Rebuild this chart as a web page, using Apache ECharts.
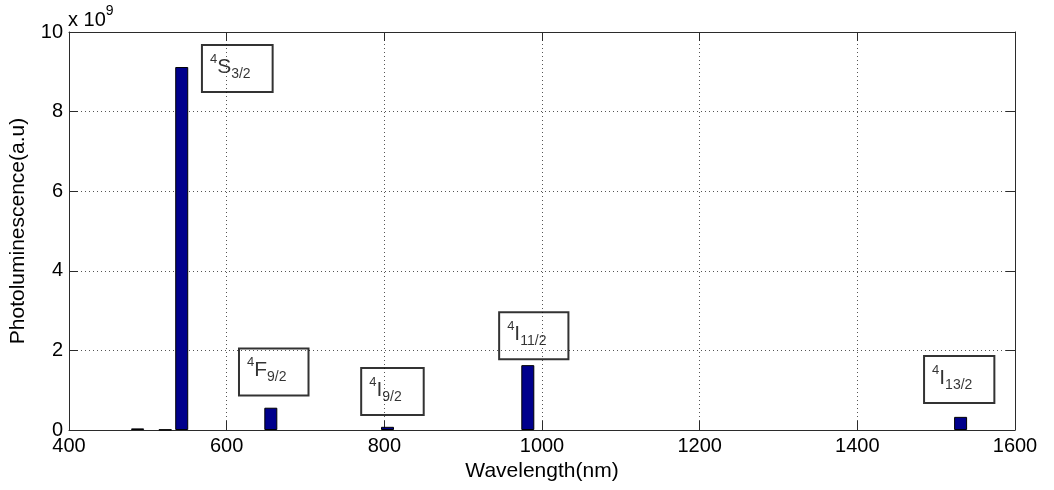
<!DOCTYPE html>
<html><head><meta charset="utf-8">
<script src="https://cdn.jsdelivr.net/npm/echarts@6/dist/echarts.min.js"></script>
<style>html,body{margin:0;padding:0;background:#fff}#c{width:1054px;height:490px}</style>
</head><body><div id="c"></div>
<script>
// Data (intensity in units of 1e9 a.u.)
const wavelengths = [487, 522, 543, 656, 804, 982, 1531];
const intensities = [0.04, 0.01, 9.12, 0.56, 0.08, 1.63, 0.33];
const xTicks = [400, 600, 800, 1000, 1200, 1400, 1600];
const yTicks = [0, 2, 4, 6, 8, 10];
const annoSup = ['4', '4', '4', '4', '4'];
const annoSymbol = ['S', 'F', 'I', 'I', 'I'];
const annoSub = ['3/2', '9/2', '9/2', '11/2', '13/2'];
const annoX = [568, 615, 770, 945, 1484];
const annoY = [9.08, 1.46, 0.97, 2.37, 1.27];
const xName = 'Wavelength(nm)';
const yName = 'Photoluminescence(a.u)';
const scaleBase = 'x 10';
const scaleExp = '9';

const FONT = '"Liberation Sans", Arial, Helvetica, sans-serif';
const frame = '#2b2b2b';
const gridLine = { show: true, lineStyle: { color: '#555', width: 1, type: [1, 3] } };

const chart = echarts.init(document.getElementById('c'), null, { renderer: 'canvas' });
const xBase = { type: 'value', min: xTicks[0], max: xTicks[xTicks.length - 1], interval: xTicks[1] - xTicks[0] };
const yBase = { type: 'value', min: yTicks[0], max: yTicks[yTicks.length - 1], interval: yTicks[1] - yTicks[0] };
const plain = v => String(v);

chart.setOption({
  animation: false,
  backgroundColor: '#fff',
  textStyle: { fontFamily: FONT },
  grid: { left: 68, right: 39, top: 32, bottom: 60, containLabel: false },
  graphic: [{
    type: 'text', left: 68, top: 4,
    style: {
      text: '{b|' + scaleBase + '}{e|' + scaleExp + '}',
      rich: {
        b: { fontSize: 20, fontFamily: FONT, fill: '#000', verticalAlign: 'bottom', lineHeight: 26 },
        e: { fontSize: 14, fontFamily: FONT, fill: '#000', verticalAlign: 'top', lineHeight: 26 }
      }
    }
  }],
  xAxis: [
    Object.assign({}, xBase, {
      position: 'bottom',
      name: xName, nameLocation: 'middle', nameGap: 26,
      nameTextStyle: { fontSize: 21, color: '#000', fontFamily: FONT },
      axisLine: { show: true, lineStyle: { color: frame, width: 1 } },
      axisTick: { show: true, inside: true, length: 9, lineStyle: { color: frame } },
      axisLabel: { show: true, fontSize: 20, color: '#000', margin: 6, fontFamily: FONT, formatter: plain },
      splitLine: gridLine
    }),
    Object.assign({}, xBase, {
      position: 'top',
      axisLine: { show: true, onZero: false, lineStyle: { color: frame, width: 1 } },
      axisTick: { show: true, inside: true, length: 9, lineStyle: { color: frame } },
      axisLabel: { show: false },
      splitLine: { show: false }
    })
  ],
  yAxis: [
    Object.assign({}, yBase, {
      position: 'left',
      name: yName, nameLocation: 'middle', nameGap: 40, nameRotate: 90,
      nameTextStyle: { fontSize: 21, color: '#000', fontFamily: FONT },
      axisLine: { show: true, onZero: false, lineStyle: { color: frame, width: 1 } },
      axisTick: { show: true, inside: true, length: 9, lineStyle: { color: frame } },
      axisLabel: { show: true, fontSize: 20, color: '#000', margin: 6, fontFamily: FONT, formatter: plain },
      splitLine: gridLine
    }),
    Object.assign({}, yBase, {
      position: 'right',
      axisLine: { show: true, onZero: false, lineStyle: { color: frame, width: 1 } },
      axisTick: { show: true, inside: true, length: 9, lineStyle: { color: frame } },
      axisLabel: { show: false },
      splitLine: { show: false }
    })
  ],
  series: [
    {
      type: 'bar',
      xAxisIndex: 0, yAxisIndex: 0,
      data: wavelengths.map((w, i) => [w, intensities[i]]),
      barWidth: 13,
      itemStyle: { color: '#00008c', borderColor: '#000', borderWidth: 1 },
      z: 3
    },
    {
      type: 'scatter',
      xAxisIndex: 0, yAxisIndex: 0,
      symbolSize: 1,
      itemStyle: { color: 'rgba(0,0,0,0)' },
      data: annoX.map((x, i) => [x, annoY[i], i]),
      z: 5,
      label: {
        show: true,
        position: 'right',
        distance: 0,
        formatter: p => '{sup|' + annoSup[p.data[2]] + '}{main|' + annoSymbol[p.data[2]] + '}{sub|' + annoSub[p.data[2]] + '}',
        borderColor: '#000',
        borderWidth: 1,
        backgroundColor: 'transparent',
        padding: [8, 22, 11, 8],
        lineHeight: 28,
        rich: {
          sup: { fontSize: 13, fontFamily: FONT, color: '#000', verticalAlign: 'top', lineHeight: 28 },
          main: { fontSize: 21, fontFamily: FONT, color: '#000', verticalAlign: 'middle', lineHeight: 28 },
          sub: { fontSize: 14, fontFamily: FONT, color: '#000', verticalAlign: 'bottom', lineHeight: 28 }
        }
      }
    }
  ]
});
</script>
</body></html>
